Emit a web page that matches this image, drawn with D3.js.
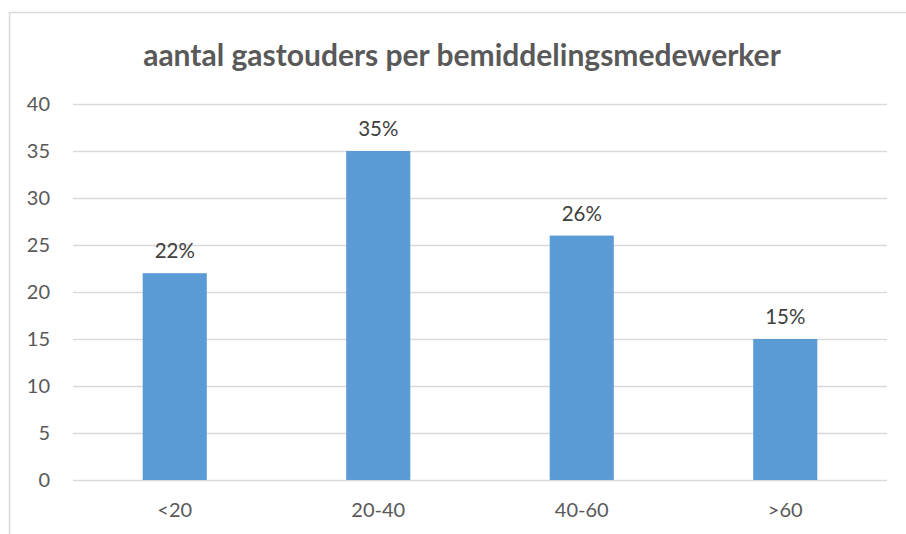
<!DOCTYPE html>
<html>
<head>
<meta charset="utf-8">
<script src="https://cdn.jsdelivr.net/npm/d3@7"></script>
<style>
  body { margin: 0; background: #fff; }
  text { font-family: Lato, "Open Sans", sans-serif; }
</style>
</head>
<body>
<svg width="906" height="534"></svg>
<script>
const categories = ["<20", "20-40", "40-60", ">60"];
const values = [22, 35, 26, 15];
const labels = ["22%", "35%", "26%", "15%"];
const yTicks = [0, 5, 10, 15, 20, 25, 30, 35, 40];
const title = "aantal gastouders per bemiddelingsmedewerker";

const width = 906;
const height = 534;
const margin = { left: 73, right: 19, top: 104, bottom: 54 };

const svg = d3.select("svg");

// chart frame (only top and left edge visible)
svg.append("path")
  .attr("d", `M9.5,${height} V12.5 H${width}`)
  .attr("fill", "none")
  .attr("stroke", "#d9d9d9")
  .attr("stroke-width", 1.5);

const x = d3.scaleBand()
  .domain(categories)
  .range([margin.left, width - margin.right])
  .paddingInner(0.685)
  .paddingOuter(0.3425);

const y = d3.scaleLinear()
  .domain([0, 40])
  .range([height - margin.bottom, margin.top]);

// gridlines
svg.append("g")
  .selectAll("line")
  .data(yTicks)
  .join("line")
  .attr("x1", margin.left)
  .attr("x2", width - margin.right)
  .attr("y1", d => Math.round(y(d)) + 0.5)
  .attr("y2", d => Math.round(y(d)) + 0.5)
  .attr("stroke", "#d9d9d9")
  .attr("stroke-width", 1.3);

// y tick labels
svg.append("g")
  .selectAll("text")
  .data(yTicks)
  .join("text")
  .attr("x", 50)
  .attr("y", d => y(d))
  .attr("dy", "0.35em")
  .attr("text-anchor", "end")
  .attr("fill", "#595959")
  .style("font-size", "20px")
  .text(d => d);

// bars
svg.append("g")
  .selectAll("rect")
  .data(values)
  .join("rect")
  .attr("x", (d, i) => x(categories[i]))
  .attr("width", x.bandwidth())
  .attr("y", d => y(d))
  .attr("height", d => y(0) - y(d))
  .attr("fill", "#5b9bd5");

// data labels
svg.append("g")
  .selectAll("text")
  .data(values)
  .join("text")
  .attr("x", (d, i) => x(categories[i]) + x.bandwidth() / 2)
  .attr("y", d => y(d) - 15)
  .attr("text-anchor", "middle")
  .attr("fill", "#404040")
  .style("font-size", "20.5px")
  .text((d, i) => labels[i]);

// category labels
svg.append("g")
  .selectAll("text")
  .data(categories)
  .join("text")
  .attr("x", d => x(d) + x.bandwidth() / 2)
  .attr("y", height - margin.bottom + 37)
  .attr("text-anchor", "middle")
  .attr("fill", "#595959")
  .style("font-size", "20px")
  .text(d => d);

// title
svg.append("text")
  .attr("x", 462)
  .attr("y", 66)
  .attr("text-anchor", "middle")
  .attr("fill", "#595959")
  .style("font-size", "30px")
  .style("font-weight", "bold")
  .text(title);
</script>
</body>
</html>
